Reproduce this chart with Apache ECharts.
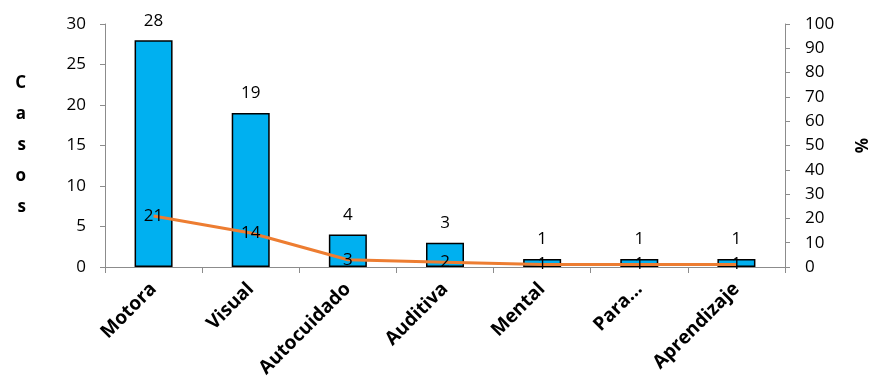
<!DOCTYPE html>
<html>
<head>
<meta charset="utf-8">
<script src="https://cdn.jsdelivr.net/npm/echarts@6/dist/echarts.min.js"></script>
<style>
  html, body { margin: 0; padding: 0; background: #fff; }
  #chart { width: 871px; height: 388px; }
</style>
</head>
<body>
<div id="chart"></div>
<script>
// Discapacidad por tipo: casos (barras) y porcentaje (línea)
const categories = ['Motora', 'Visual', 'Autocuidado', 'Auditiva', 'Mental', 'Para...', 'Aprendizaje'];
const casos = [28, 19, 4, 3, 1, 1, 1];
const porcentaje = [21, 14, 3, 2, 1, 1, 1];

const FONT = '"Open Sans", "Liberation Sans", sans-serif';
const axisGray = '#8c8c8c';

const chart = echarts.init(document.getElementById('chart'));
chart.setOption({
  animation: false,
  textStyle: { fontFamily: FONT },
  grid: { left: 105, right: 86, top: 24, bottom: 121, containLabel: false, outerBoundsMode: 'none' },
  xAxis: {
    type: 'category',
    data: categories,
    axisLine: { lineStyle: { color: axisGray, width: 1 } },
    axisTick: { show: true, length: 6, lineStyle: { color: axisGray } },
    axisLabel: {
      rotate: 45, margin: 19, color: '#000', fontWeight: 'bold',
      fontSize: 19, fontFamily: FONT
    }
  },
  yAxis: [
    {
      type: 'value', min: 0, max: 30, interval: 5,
      name: 'C\na\ns\no\ns', nameLocation: 'middle', nameRotate: 0, nameGap: 79,
      nameTextStyle: { fontWeight: 'bold', fontSize: 17, lineHeight: 31, color: '#000', fontFamily: FONT },
      axisLine: { show: true, lineStyle: { color: axisGray } },
      axisTick: { show: true, length: 5, lineStyle: { color: axisGray } },
      axisLabel: { color: '#000', fontSize: 17, margin: 19, fontFamily: FONT },
      splitLine: { show: false }
    },
    {
      type: 'value', min: 0, max: 100, interval: 10, position: 'right',
      name: '%', nameLocation: 'middle', nameRotate: 90, nameGap: 70,
      nameTextStyle: { fontWeight: 'bold', fontSize: 17, color: '#000', fontFamily: FONT },
      axisLine: { show: true, lineStyle: { color: axisGray } },
      axisTick: { show: true, length: 5, lineStyle: { color: axisGray } },
      axisLabel: { color: '#000', fontSize: 17, margin: 20, fontFamily: FONT },
      splitLine: { show: false }
    }
  ],
  series: [
    {
      type: 'bar',
      data: casos,
      barWidth: 38,
      itemStyle: { color: '#00B0F0', borderColor: '#000', borderWidth: 1.5 },
      label: { show: true, position: 'top', distance: 11, color: '#000', fontSize: 17, fontFamily: FONT }
    },
    {
      type: 'line',
      yAxisIndex: 1,
      data: porcentaje,
      symbol: 'circle',
      symbolSize: 1,
      showSymbol: true,
      lineStyle: { color: '#ED7D31', width: 3 },
      itemStyle: { color: 'rgba(0,0,0,0)' },
      label: { show: true, position: 'inside', color: '#000', fontSize: 17, fontFamily: FONT },
      z: 3
    }
  ]
});
</script>
</body>
</html>
